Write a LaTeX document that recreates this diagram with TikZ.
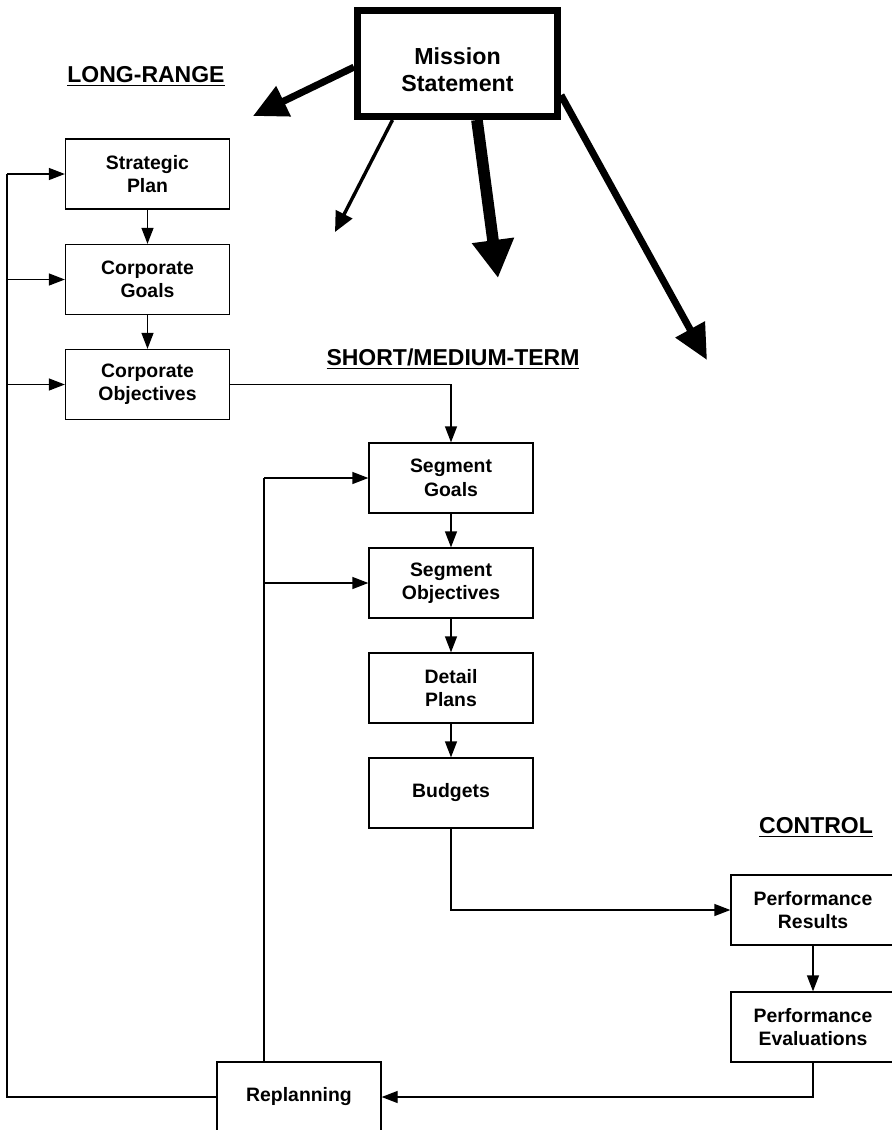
\documentclass[tikz,border=0pt]{standalone}
\usepackage{fontspec}
\setmainfont{Liberation Sans}
\usetikzlibrary{arrows.meta}
\tikzset{
  box/.style={draw, line width=0.65pt, minimum width=82pt, minimum height=35pt, inner sep=0pt, align=center, font=\bfseries\fontsize{9.7pt}{11.7pt}\selectfont},
  link/.style={line width=0.65pt, -{Triangle[length=8pt,width=6pt]}},
  plain/.style={line width=0.65pt},
  heading/.style={anchor=base, font=\bfseries\fontsize{11.5pt}{13pt}\selectfont},
}
\begin{document}
\begin{tikzpicture}[x=0.5pt,y=-0.5pt]
            \useasboundingbox (0,0) rectangle (892,1130);
            \clip (0,0) rectangle (892,1130);

            %nadpisy
            \node[heading] (longrange) at (146,82.5) {\underline{LONG-RANGE}};
            \node[heading] (shortterm) at (453,365) {\underline{SHORT/MEDIUM-TERM}};
            \node[heading] (control) at (816,833) {\underline{CONTROL}};

            %mission statement
            \node[draw, line width=3.5pt, minimum width=100pt, minimum height=53pt, inner sep=0pt,
                  label={[align=center, yshift=-3.2pt, font=\bfseries\fontsize{11.6pt}{13.3pt}\selectfont]center:{Mission\\Statement}}] (mission) at (457.5,63.5) {};
            \coordinate (tipleft) at (253,116);
            \coordinate (tipsmall) at (335,232);
            \coordinate (tipdown) at (498,278);
            \coordinate (tipright) at (707,360);
            \draw[line width=3.5pt, -{Triangle[length=17pt,width=16pt]}] (mission.182.5) -- (tipleft);
            \draw[line width=1.7pt, -{Triangle[length=10pt,width=9pt]}] (mission.221) -- (tipsmall);
            \draw[line width=5.8pt, -{Triangle[length=19pt,width=20pt]}] (mission.289) -- (tipdown);
            \draw[line width=3.5pt, -{Triangle[length=17.5pt,width=16pt]}] (mission.343) -- (tipright);

            %long range
            \node[box] (strategic) at (147.5,174) {Strategic\\Plan};
            \node[box] (cgoals) at (147.5,279.5) {Corporate\\Goals};
            \node[box] (cobj) at (147.5,384.5) {Corporate\\Objectives};
            \draw[link] (strategic) -- (cgoals);
            \draw[link] (cgoals) -- (cobj);

            %short/medium term
            \node[box] (sgoals) at (451,478) {Segment\\Goals};
            \node[box] (sobj) at (451,583) {Segment\\Objectives};
            \node[box] (detail) at (451,688) {Detail\\Plans};
            \node[box] (budgets) at (451,793) {Budgets};
            \draw[link] (cobj.east) -| (sgoals.north);
            \draw[link] (sgoals) -- (sobj);
            \draw[link] (sobj) -- (detail);
            \draw[link] (detail) -- (budgets);

            %control
            \node[box] (presults) at (813,910) {Performance\\Results};
            \node[box] (peval) at (813,1027) {Performance\\Evaluations};
            \node[box] (replan) at (299,1097) {Replanning};
            \draw[link] (budgets.south) |- (presults.west);
            \draw[link] (presults) -- (peval);
            \draw[link] (peval.south) |- (replan.east);

            %spatne vazby
            \coordinate (outerline) at (7,174);
            \coordinate (innerline) at (264,478);
            \draw[plain] (replan.west) -| (outerline);
            \draw[link] (outerline) -- (strategic.west);
            \draw[link] (outerline |- cgoals.west) -- (cgoals.west);
            \draw[link] (outerline |- cobj.west) -- (cobj.west);
            \draw[plain] (replan.north -| innerline) -- (innerline);
            \draw[link] (innerline) -- (sgoals.west);
            \draw[link] (innerline |- sobj.west) -- (sobj.west);
        \end{tikzpicture}
\end{document}
